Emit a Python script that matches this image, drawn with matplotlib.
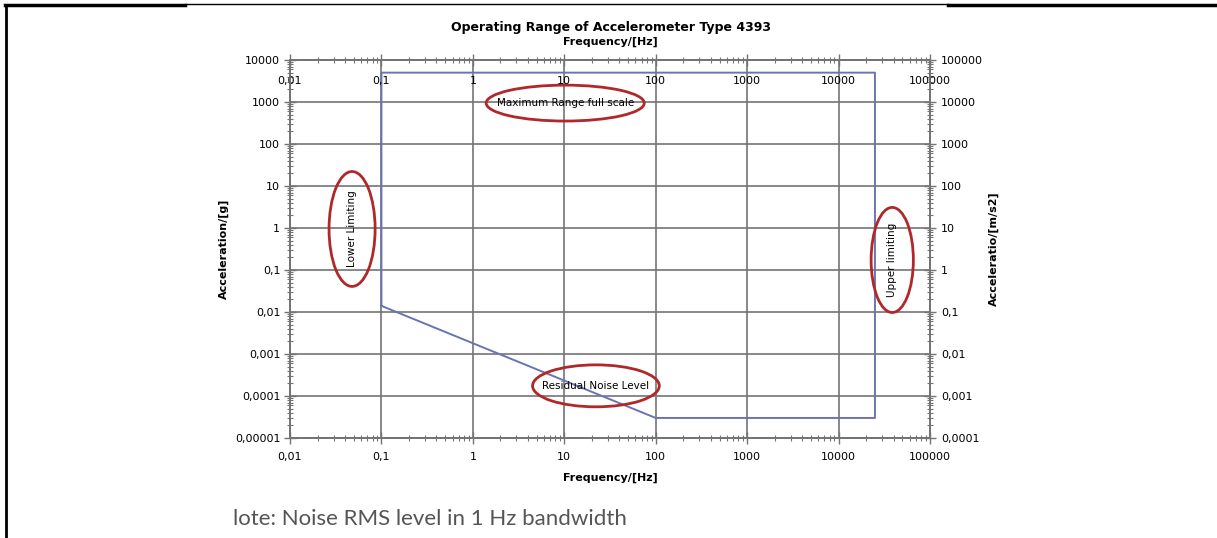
# Operating range chart of accelerometer type 4393 (scanned datasheet figure).
import matplotlib
matplotlib.use("Agg")
import matplotlib.pyplot as plt
from matplotlib.patches import Ellipse
from matplotlib.lines import Line2D
from matplotlib.ticker import LogLocator, FixedLocator, FuncFormatter, NullFormatter

# data: outline of the operating range (Hz, g)
range_freq = [0.1, 0.1, 25000, 25000, 100, 0.1]
range_acc = [0.014, 5000, 5000, 3e-5, 3e-5, 0.014]

freq_ticks = [0.01, 0.1, 1, 10, 100, 1000, 10000, 100000]
acc_g_ticks = [1e-5, 1e-4, 1e-3, 1e-2, 1e-1, 1, 10, 100, 1000, 10000]
acc_ms2_ticks = [1e-4, 1e-3, 1e-2, 1e-1, 1, 10, 100, 1000, 10000, 100000]

title = "Operating Range of Accelerometer Type 4393"
note = "lote: Noise RMS level in 1 Hz bandwidth"

# annotation text, centre (axes fraction), ellipse size, rotation
notes = [
    ("Maximum Range full scale", 0.430, 0.886, 0.247, 0.095, 0),
    ("Lower Limiting", 0.097, 0.553, 0.072, 0.304, 90),
    ("Upper limiting", 0.941, 0.471, 0.066, 0.278, 90),
    ("Residual Noise Level", 0.478, 0.138, 0.198, 0.111, 0),
]

plt.rcParams["font.family"] = ["DejaVu Sans"]
GRID = "#747474"
LINE = "#6b74b0"
RED = "#b0282a"
TICK = 8
LAB = 8


def comma(v, pos=None):
    if v >= 1:
        return "%d" % round(v)
    s = ("%.6f" % v).rstrip("0")
    return s.replace(".", ",")


def style_ticks(a, **kw):
    a.tick_params(which="major", direction="inout", length=8, width=1, color=GRID,
                  labelsize=TICK, **kw)
    a.tick_params(which="minor", direction="inout", length=5, width=0.8, color=GRID)
    for s in a.spines.values():
        s.set_color(GRID)
        s.set_linewidth(1.2)


fig = plt.figure(figsize=(12.17, 5.38), dpi=100)
ax = fig.add_axes([290 / 1217, 1 - 438 / 538, 640 / 1217, 378 / 538])

ax.plot(range_freq, range_acc, color=LINE, lw=1.4, zorder=3)
ax.set_xscale("log")
ax.set_yscale("log")
ax.set_xlim(0.01, 100000)
ax.set_ylim(1e-5, 1e4)

ax.xaxis.set_major_locator(FixedLocator(freq_ticks))
ax.yaxis.set_major_locator(FixedLocator(acc_g_ticks))
ax.xaxis.set_minor_locator(LogLocator(base=10, subs=range(2, 10), numticks=20))
ax.yaxis.set_minor_locator(LogLocator(base=10, subs=range(2, 10), numticks=20))
ax.xaxis.set_major_formatter(FuncFormatter(comma))
ax.yaxis.set_major_formatter(FuncFormatter(comma))
ax.xaxis.set_minor_formatter(NullFormatter())
ax.yaxis.set_minor_formatter(NullFormatter())
ax.grid(True, which="major", color=GRID, lw=1.2)
style_ticks(ax)
ax.tick_params(axis="x", pad=6)
ax.tick_params(axis="y", pad=3)
ax.set_xlabel("Frequency/[Hz]", fontsize=LAB, fontweight="bold", labelpad=8)
ax.set_ylabel("Acceleration/[g]", fontsize=LAB, fontweight="bold", labelpad=4)

# right axis in m/s2
axr = ax.twinx()
axr.set_yscale("log")
axr.set_ylim(1e-4, 1e5)
axr.yaxis.set_major_locator(FixedLocator(acc_ms2_ticks))
axr.yaxis.set_minor_locator(LogLocator(base=10, subs=range(2, 10), numticks=20))
axr.yaxis.set_major_formatter(FuncFormatter(comma))
axr.yaxis.set_minor_formatter(NullFormatter())
style_ticks(axr, pad=4)
axr.set_ylabel("Acceleratio/[m/s2]", fontsize=LAB, fontweight="bold", labelpad=4)

# top frequency axis, labels drawn inside the plot
axt = ax.twiny()
axt.set_xscale("log")
axt.set_xlim(0.01, 100000)
axt.xaxis.set_major_locator(FixedLocator(freq_ticks))
axt.xaxis.set_minor_locator(LogLocator(base=10, subs=range(2, 10), numticks=20))
axt.xaxis.set_major_formatter(FuncFormatter(comma))
axt.xaxis.set_minor_formatter(NullFormatter())
style_ticks(axt, pad=-23)
axt.set_xlabel("Frequency/[Hz]", fontsize=LAB, fontweight="bold", labelpad=5)

for text, cx, cy, w, h, rot in notes:
    ax.add_patch(Ellipse((cx, cy), w, h, transform=ax.transAxes, fill=False,
                         edgecolor=RED, lw=2, zorder=4))
    ax.text(cx, cy, text, transform=ax.transAxes, rotation=rot, fontsize=7.5,
            ha="center", va="center", zorder=5)

fig.text(611 / 1217, 1 - 27 / 538, title, fontsize=9, fontweight="bold",
         ha="center", va="center")
fig.text(233 / 1217, 1 - 519 / 538, note, fontsize=16, color="#555555",
         family=["Lato", "DejaVu Sans"], ha="left", va="center")

# page borders of the scanned document
fig.add_artist(Line2D([6 / 1217, 6 / 1217], [0, 1 - 5 / 538], color="black", lw=2))
fig.add_artist(Line2D([5 / 1217, 185 / 1217], [1 - 5 / 538] * 2, color="black", lw=2.5))
fig.add_artist(Line2D([185 / 1217, 948 / 1217], [1 - 4 / 538] * 2, color="black", lw=1))
fig.add_artist(Line2D([948 / 1217, 1], [1 - 5 / 538] * 2, color="black", lw=2.5))

fig.savefig("out.png", dpi=100)
